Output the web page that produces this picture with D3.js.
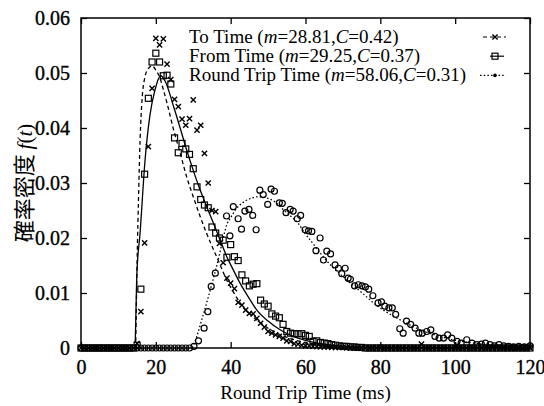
<!DOCTYPE html>
<html>
<head>
<meta charset="utf-8">
<script src="https://cdn.jsdelivr.net/npm/d3@7"></script>
<style>
  body { margin: 0; background: #fff; }
  svg { display: block; }
</style>
</head>
<body>
<div id="chart"></div>
<script>
// ---- data ----
const xTicks = [0, 20, 40, 60, 80, 100, 120];
const yTicks = [0, 0.01, 0.02, 0.03, 0.04, 0.05, 0.06];

// histogram bins, 1 ms wide
const binT = [0,1,2,3,4,5,6,7,8,9,10,11,12,13,14,15,16,17,18,19,20,21,22,23,24,25,26,27,28,29,30,31,32,33,34,35,36,37,38,39,40,41,42,43,44,45,46,47,48,49,50,51,52,53,54,55,56,57,58,59,60,61,62,63,64,65,66,67,68,69,70,71,72,73,74,75,76,77,78,79,80,81,82,83,84,85,86,87,88,89,90,91,92,93,94,95,96,97,98,99,100,101,102,103,104,105,106,107,108,109,110,111,112,113,114,115,116,117,118,119,120];

// To Time histogram (x markers)
const toV = [0,0,0,0,0,0,0,0,0,0,0,0,0,0,0,
  0.0008,0.0066,0.0191,0.0366,0.0472,0.0563,0.0551,0.0562,0.0516,0.0488,0.0452,0.0439,0.0416,0.0405,0.0417,
  0.0451,0.0396,0.0405,0.0354,0.0300,0.0250,0.0248,0.0190,0.0155,0.0127,0.0118,0.0108,0.0083,0.0078,0.0069,
  0.0063,0.0062,0.0054,0.0045,0.0038,0.0030,0.0027,0.0024,0.0021,0.0018,0.0013,0.0012,0.0008,0.0007,0.0005,
  0.0004,0.0004,0.0003,0.0003,0.0002,0.0002,0.0002,0.0001,0.0001,0.0001,0.0001,
  0,0,0,0,0,0,0,0,0,0,0,0,0,0,0,0,0,0,0,0,0.0007,
  0,0,0,0,0,0,0,0,0,0,0,0,0,0,0,0,0,0,0,0,0,0,0,0,0,0,0,0,0];

// From Time histogram (squares)
const fromV = [0,0,0,0,0,0,0,0,0,0,0,0,0,0,0,
  0.0005,0.0107,0.0316,0.0454,0.0520,0.0536,0.0520,0.0495,0.0496,0.0480,0.0382,0.0355,0.0372,0.0362,0.0352,
  0.0326,0.0293,0.0270,0.0260,0.0255,0.0220,0.0209,0.0200,0.0196,0.0165,0.0188,0.0166,0.0159,0.0133,0.0122,
  0.0113,0.0116,0.0117,0.0087,0.0080,0.0076,0.0062,0.0058,0.0055,0.0043,0.0030,0.0027,0.0026,0.0026,0.0026,
  0.0023,0.0021,0.0012,0.0013,0.0010,0.0009,0.0008,0.0006,0.0005,0.0004,0.0003,0.0003,0.0002,0.0002,0.0001,0.0001,
  0,0,0,0,0,0,0,0,0,0,0,0,0,0,0,0,0,0,0,0,0,0,0,0,0,0,0,0,0,0,0,0,0,0,0,0,0,0,0,0,0,0,0,0,0];

// Round Trip Time histogram (circles)
const rttT = [0,1,2,3,4,5,6,7,8,9,10,11,12,13,14,15,16,17,18,19,20,21,22,23,24,25,26,27,28,29,
  30.2,31.4,32.9,33.9,34.8,35.9,38.9,39.8,40.7,42.0,42.9,43.8,44.9,45.9,46.8,47.8,48.7,49.9,50.8,51.7,53.0,53.8,54.8,55.9,56.7,57.8,58.7,59.9,60.8,61.7,62.8,63.9,64.8,65.7,66.7,67.9,68.8,69.7,70.6,71.4,72.0,73.1,74.1,75.1,76.0,76.9,78.0,79.4,80.3,81.2,82.3,83.2,84.1,85.2,86.1,87.0,88.1,89.3,90.3,91.2,92.4,93.5,94.6,95.7,96.9,98.0,99.1,100.5,101.6,103.1,104.5,105.8,107.0,108.1,109.3,110.5,111.7,113.0,114.3,115.6,117.0,118.5,120];
const rttV = [0,0,0,0,0,0,0,0,0,0,0,0,0,0,0,0,0,0,0,0,0,0,0,0,0,0,0,0,0,0,
  0.0003,0.0013,0.0036,0.0066,0.0112,0.0136,0.0240,0.0204,0.0257,0.0235,0.0216,0.0249,0.0252,0.0241,0.0215,0.0287,0.0279,0.0261,0.0289,0.0285,0.0264,0.0263,0.0246,0.0252,0.0249,0.0235,0.0241,0.0215,0.0213,0.0212,0.0177,0.0200,0.0160,0.0176,0.0171,0.0151,0.0145,0.0135,0.0145,0.0127,0.0125,0.0113,0.0115,0.0113,0.0111,0.0107,0.0095,0.0082,0.0084,0.0076,0.0073,0.0073,0.0061,0.0035,0.0027,0.0049,0.0043,0.0036,0.0027,0.0027,0.0030,0.0033,0.0021,0.0018,0.0018,0.0024,0.0018,0.0012,0.0009,0.0015,0.0009,0.0006,0.0007,0.0009,0.0006,0.0004,0.0006,0.0004,0.0003,0.0002,0.0003,0.0002,0.0004];

// fitted curves
const toFitT = [14.6,14.8,15.0,15.4,15.8,16.3,17,18,19,20,21,22,23,24.7,26.5,28.2,30,31.8,33.6,35.4,37.2,38.9,40.7,42.5,44.5,47,50,53,56,60,65,70,80,120];
const toFitV = [0,0.008,0.016,0.028,0.038,0.045,0.049,0.0508,0.0513,0.0505,0.0493,0.047,0.0445,0.0398,0.0355,0.0312,0.0275,0.024,0.0208,0.0179,0.0151,0.0124,0.0102,0.0082,0.0066,0.0051,0.0036,0.0025,0.0017,0.001,0.0005,0.0002,0.00005,0];
const fromFitT = [14.5,14.9,15.8,17.1,18.4,19.8,21.3,22.5,24.7,26.5,28.2,30,31.8,33.6,35.4,37.2,38.9,40.7,42.5,44.7,47,50,53,56,60,65,70,80,120];
const fromFitV = [0.001,0.013,0.021,0.034,0.0422,0.047,0.0495,0.0485,0.044,0.040,0.0361,0.0323,0.0288,0.0257,0.0227,0.0196,0.0167,0.0142,0.0118,0.0093,0.0069,0.0049,0.0034,0.0023,0.0014,0.0007,0.0003,0.0001,0];
const rttFitT = [29.8,31,32,33,34,35,36,37,38,39,40,41.6,43,45,47.5,50,52,54,56,58,60,62,64,66,68,70,72,75,78,81,84,87,90,95,100,105,110,115,120];
const rttFitV = [0,0.0022,0.0045,0.0068,0.0092,0.0117,0.0142,0.017,0.020,0.0225,0.0237,0.0254,0.0263,0.0271,0.0275,0.0272,0.0265,0.0252,0.024,0.0227,0.0207,0.019,0.0172,0.0156,0.0142,0.013,0.0118,0.0101,0.0083,0.0068,0.0056,0.0045,0.0035,0.0023,0.0014,0.0009,0.0005,0.0003,0.0002];

const legendLabels = [
  { name: "To Time", m: "28.81", c: "0.42" },
  { name: "From Time", m: "29.25", c: "0.37" },
  { name: "Round Trip Time", m: "58.06", c: "0.31" }
];

// ---- layout ----
const width = 544, height = 406;
const margin = { top: 18, right: 14, bottom: 58, left: 81 };
const serif = "'Liberation Serif', 'Times New Roman', serif";

const svg = d3.select("#chart").append("svg")
  .attr("width", width).attr("height", height)
  .attr("viewBox", `0 0 ${width} ${height}`);

const x = d3.scaleLinear().domain([0, 120]).range([margin.left, width - margin.right]);
const y = d3.scaleLinear().domain([0, 0.06]).range([height - margin.bottom, margin.top]);

const fmtY = d => d === 0 ? "0" : d.toFixed(2);

// axes with inward ticks on all four sides
const styleAxis = g => {
  g.select(".domain").remove();
  g.selectAll("line").attr("stroke", "#000").attr("stroke-width", 1.3);
  g.selectAll("text").attr("fill", "#000")
    .attr("stroke", "#000").attr("stroke-width", 0.35)
    .style("font-family", serif).style("font-size", "20px");
};
svg.append("g").attr("transform", `translate(0,${y(0)})`)
  .call(d3.axisBottom(x).tickValues(xTicks).tickSize(-6).tickPadding(12))
  .call(styleAxis);
svg.append("g").attr("transform", `translate(0,${y(0.06)})`)
  .call(d3.axisTop(x).tickValues(xTicks).tickSize(-6).tickFormat(""))
  .call(styleAxis);
svg.append("g").attr("transform", `translate(${x(0)},0)`)
  .call(d3.axisLeft(y).tickValues(yTicks).tickSize(-6).tickPadding(11).tickFormat(fmtY))
  .call(styleAxis);
svg.append("g").attr("transform", `translate(${x(120)},0)`)
  .call(d3.axisRight(y).tickValues(yTicks).tickSize(-6).tickFormat(""))
  .call(styleAxis);

svg.append("rect")
  .attr("x", x(0)).attr("y", y(0.06))
  .attr("width", x(120) - x(0)).attr("height", y(0) - y(0.06))
  .attr("fill", "none").attr("stroke", "#000").attr("stroke-width", 1.5);

// axis titles
svg.append("text")
  .attr("x", (x(0) + x(120)) / 2).attr("y", 399)
  .attr("text-anchor", "middle")
  .style("font-family", serif).style("font-size", "19px")
  .text("Round Trip Time (ms)");

const yTitle = svg.append("text")
  .attr("transform", `translate(32,${(y(0) + y(0.06)) / 2}) rotate(-90)`)
  .attr("text-anchor", "middle");
yTitle.append("tspan").style("font-family", "'Noto Sans CJK JP', sans-serif")
  .style("font-size", "22px").text("確率密度 ");
yTitle.append("tspan").style("font-family", serif).style("font-size", "21px").style("font-style", "italic").text("f");
yTitle.append("tspan").style("font-family", serif).style("font-size", "21px").text("(");
yTitle.append("tspan").style("font-family", serif).style("font-size", "21px").style("font-style", "italic").text("t");
yTitle.append("tspan").style("font-family", serif).style("font-size", "21px").text(")");

// fitted curves
const line = d3.line().x(d => x(d[0])).y(d => y(d[1])).curve(d3.curveMonotoneX);
const zip = (a, b) => a.map((v, i) => [v, b[i]]);
const fits = [
  { pts: zip(toFitT, toFitV), dash: "4,3" },
  { pts: zip(fromFitT, fromFitV), dash: null },
  { pts: zip(rttFitT, rttFitV), dash: "1.5,2.2" }
];
fits.forEach(f => {
  svg.append("path").datum(f.pts)
    .attr("d", line).attr("fill", "none")
    .attr("stroke", "#000").attr("stroke-width", 1.3)
    .attr("stroke-dasharray", f.dash);
});

// marker drawers
const drawCross = (g, cx, cy) => {
  const s = 2.6;
  g.append("path").attr("d", `M${cx - s},${cy - s}L${cx + s},${cy + s}M${cx - s},${cy + s}L${cx + s},${cy - s}`)
    .attr("stroke", "#000").attr("stroke-width", 1.4).attr("fill", "none");
};
const drawSquare = (g, cx, cy) => {
  g.append("rect").attr("x", cx - 3).attr("y", cy - 3).attr("width", 6).attr("height", 6)
    .attr("fill", "none").attr("stroke", "#000").attr("stroke-width", 1.2);
};
const drawCircle = (g, cx, cy) => {
  g.append("circle").attr("cx", cx).attr("cy", cy).attr("r", 3)
    .attr("fill", "none").attr("stroke", "#000").attr("stroke-width", 1.2);
};

const pts = svg.append("g");
rttT.forEach((t, i) => drawCircle(pts, x(t), y(rttV[i])));
binT.forEach((t, i) => drawSquare(pts, x(t), y(fromV[i])));
binT.forEach((t, i) => drawCross(pts, x(t), y(toV[i])));

// legend
const legend = svg.append("g");
const legendMarkers = [drawCross, drawSquare, (g, cx, cy) => {
  g.append("circle").attr("cx", cx).attr("cy", cy).attr("r", 1.8).attr("fill", "#000");
}];
const sampleX = [[483, 506], [490, 504], [480, 506]];
legendLabels.forEach((d, i) => {
  const ly = 43 + i * 19.2;
  const t = legend.append("text").attr("x", 189).attr("y", ly)
    .style("font-family", serif).style("font-size", "19px");
  t.append("tspan").text(`${d.name} (`);
  t.append("tspan").style("font-style", "italic").text("m");
  t.append("tspan").text(`=${d.m},`);
  t.append("tspan").style("font-style", "italic").text("C");
  t.append("tspan").text(`=${d.c})`);
  legend.append("line")
    .attr("x1", sampleX[i][0]).attr("x2", sampleX[i][1]).attr("y1", ly - 6).attr("y2", ly - 6)
    .attr("stroke", "#000").attr("stroke-width", 1.2)
    .attr("stroke-dasharray", fits[i].dash);
  legendMarkers[i](legend, 495, ly - 6);
});
</script>
</body>
</html>
